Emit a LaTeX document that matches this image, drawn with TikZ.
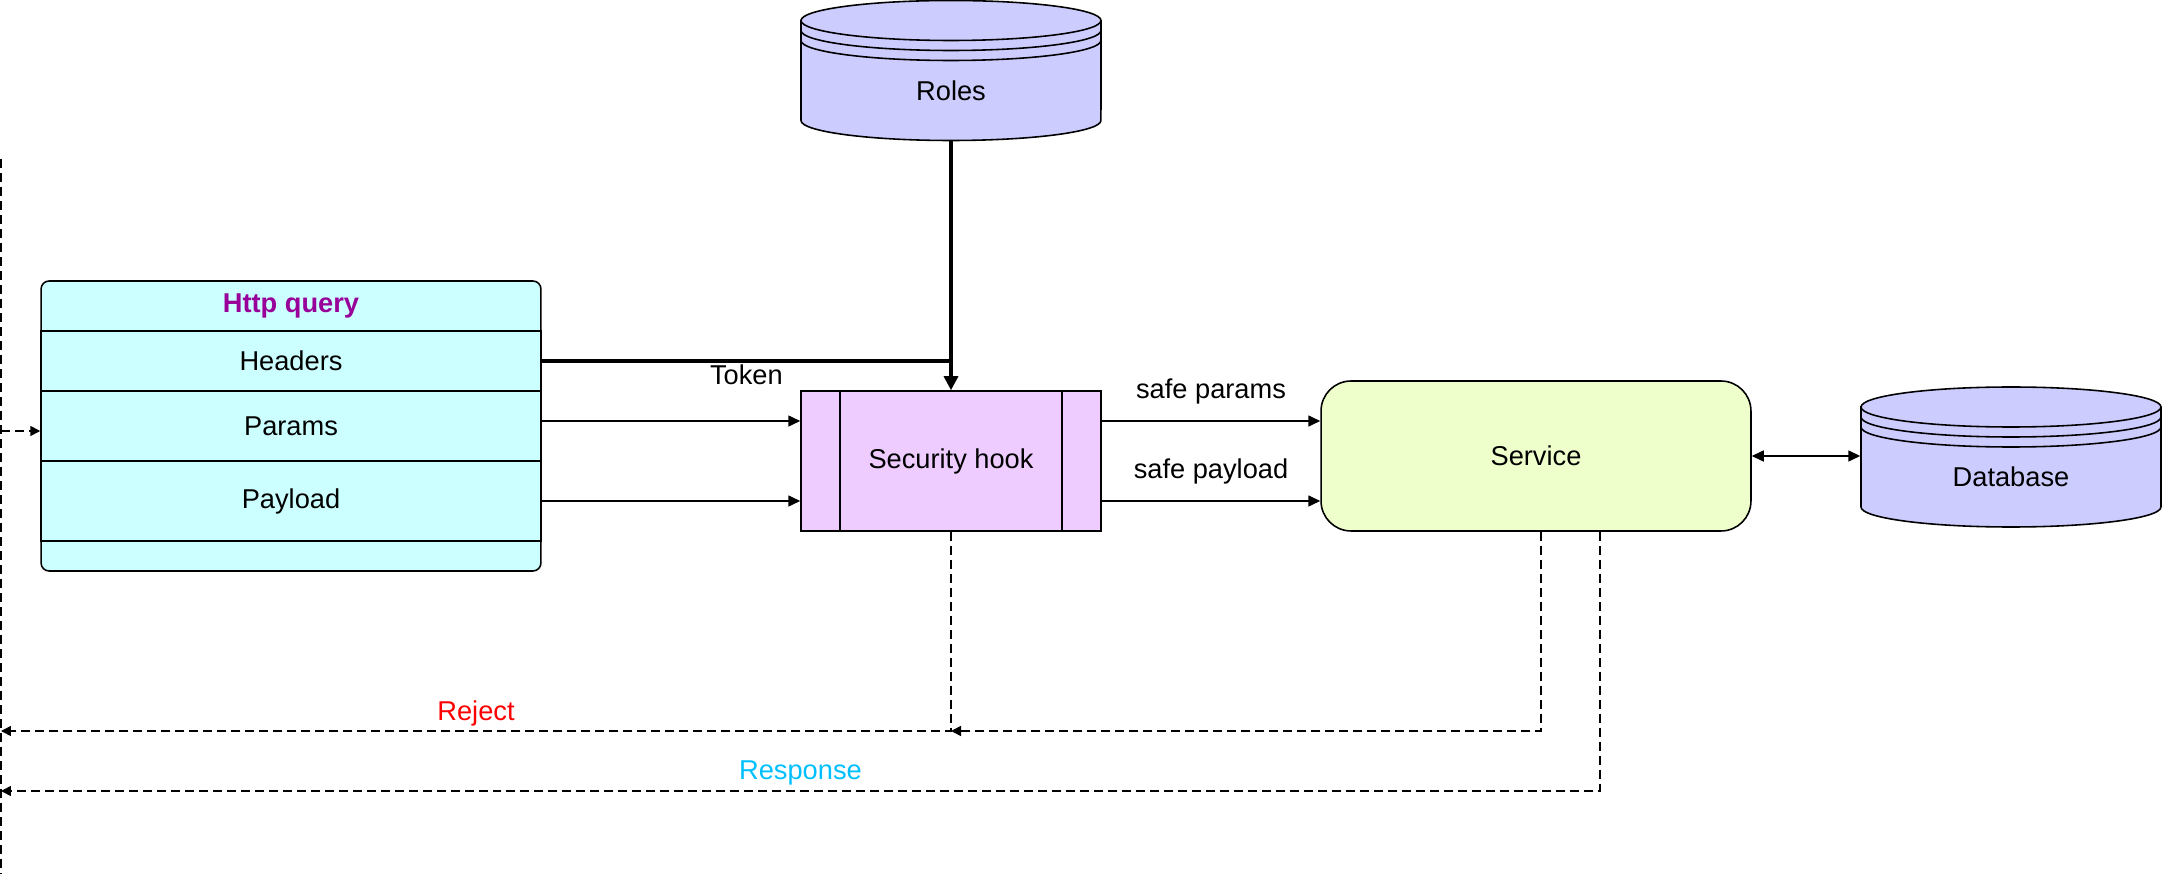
\documentclass[tikz,border=0pt]{standalone}
\usepackage{fontspec}
\setmainfont{Liberation Sans}
\usetikzlibrary{arrows.meta}

\definecolor{querycol}{HTML}{CCFFFF}
\definecolor{hookcol}{HTML}{EECCFF}
\definecolor{storecol}{HTML}{CCCCFF}
\definecolor{servicecol}{HTML}{EEFFCC}
\definecolor{titlecol}{HTML}{990099}
\definecolor{respcol}{HTML}{00BFFF}

\newcommand{\lbl}{\fontsize{15.5}{18}\selectfont}

% cylinder with two extra rings, text node (#1) in the body
\newcommand{\datastore}[4]{%
	\filldraw[fill=storecol] ({#2-150},{#3+70}) -- ({#2-150},{#3-30}) arc(180:360:3cm and 0.4cm) -- ({#2+150},{#3+70}) arc(0:180:3cm and 0.4cm) -- cycle;
	\foreach \off in {0,10,20}{
		\draw ({#2-150},{#3+70-\off}) arc(180:360:3cm and 0.4cm);
		}
	\node[minimum width=6cm,minimum height=2cm,inner sep=0] (#1) at (#2,#3) {#4};
}

\begin{document}
\begin{tikzpicture}[x=0.02cm,y=0.02cm,font=\lbl,line width=0.9pt,
	arr/.style={-{Triangle[length=0.24cm,width=0.22cm]}},
	bigarr/.style={line width=1.8pt,-{Triangle[length=0.28cm,width=0.28cm]}},
	dblarr/.style={{Triangle[length=0.24cm,width=0.22cm]}-{Triangle[length=0.24cm,width=0.22cm]}},
	dashline/.style={dash pattern=on 0.18cm off 0.1cm},
	dasharr/.style={dashline,-{Triangle[length=0.2cm,width=0.2cm]}},
	row/.style={draw,minimum width=10cm,inner sep=0}]
	\useasboundingbox (0,0) rectangle (2164,-874);

	% Http query
	\node[draw,fill=querycol,rounded corners=0.16cm,minimum width=10cm,minimum height=5.8cm,inner sep=0] (query) at (291,-426) {};
	\node[text=titlecol,font=\lbl\bfseries] (title) at (291,-306) {Http query};
	\node[row,minimum height=1.2cm] (headers) at (291,-361) {Headers};
	\node[row,minimum height=1.4cm] (params) at (291,-426) {Params};
	\node[row,minimum height=1.6cm] (payload) at (291,-501) {Payload};

	% Stores
	\datastore{roles}{951}{-90.5}{Roles}
	\datastore{db}{2011}{-477}{Database}

	% Security hook and service
	\node[draw,fill=hookcol,minimum width=6cm,minimum height=2.8cm] (hook) at (951,-461) {Security hook};
	\draw ([xshift=0.8cm]hook.north west) -- ([xshift=0.8cm]hook.south west);
	\draw ([xshift=-0.8cm]hook.north east) -- ([xshift=-0.8cm]hook.south east);
	\node[draw,fill=servicecol,rounded corners=0.6cm,minimum width=8.6cm,minimum height=3cm] (service) at (1536,-456) {Service};

	% Flows
	\draw[bigarr] (roles.south) -- (hook.north);
	\draw[line width=1.8pt] (headers.east) -- (headers.east -| hook.north) node[midway,yshift=-0.28cm] {Token};
	\coordinate (pin) at ([yshift=0.8cm]hook.west);
	\draw[arr] (params.east |- pin) -- (pin);
	\draw[arr] (payload.east) -- (payload.east -| hook.west);
	\draw[arr] ([yshift=0.8cm]hook.east) -- ([yshift=0.8cm]hook.east -| service.west) node[midway,yshift=0.6cm] {safe params};
	\draw[arr] ([yshift=-0.8cm]hook.east) -- ([yshift=-0.8cm]hook.east -| service.west) node[midway,yshift=0.6cm] {safe payload};
	\draw[dblarr] (service.east) -- (service.east -| db.west);

	% Return paths
	\coordinate (ctop) at (1,-159);
	\coordinate (cbot) at (1,-874);
	\coordinate (qin) at (1,-431);
	\coordinate (rejL) at (1,-731);
	\coordinate (respL) at (1,-791);
	\draw[dashline] (ctop) -- (cbot);
	\draw[dasharr] (qin) -- (qin -| query.west);
	\draw[dasharr] (hook.south) |- (rejL) node[pos=0.75,yshift=0.36cm,text=red] {Reject};
	\draw[dasharr] ([xshift=0.1cm]service.south) |- (hook.south |- rejL);
	\draw[dasharr] ([xshift=1.28cm]service.south) |- (respL) node[pos=0.75,yshift=0.36cm,text=respcol] {Response};
\end{tikzpicture}
\end{document}
